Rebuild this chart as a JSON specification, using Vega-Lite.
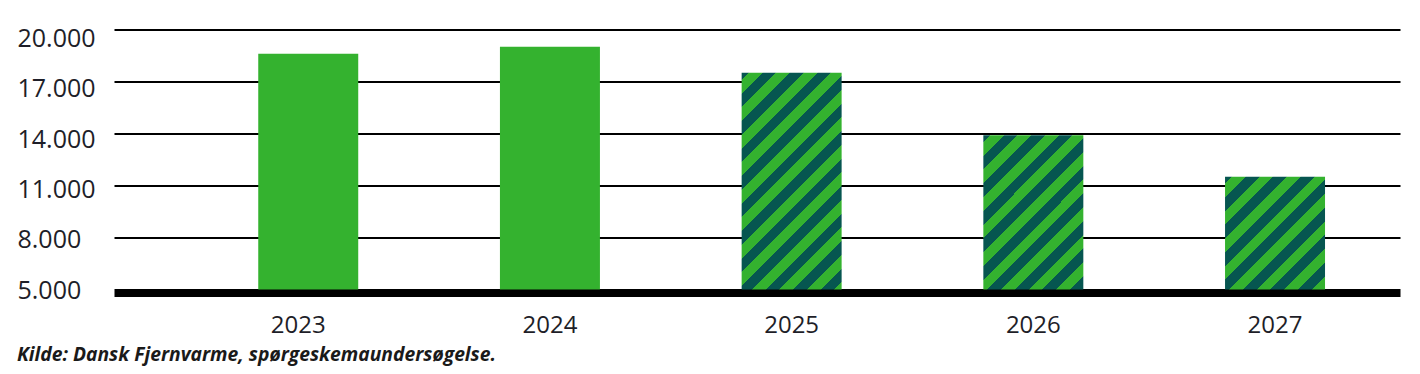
{
  "$schema": "https://vega.github.io/schema/vega-lite/v6.json",
  "width": 1286,
  "height": 260,
  "autosize": {"type": "none"},
  "padding": {"left": 114, "top": 29.5, "right": 20, "bottom": 84.5},
  "background": "white",
  "config": {"view": {"stroke": null}, "font": "Open Sans"},
  "title": {"text": "Kilde: Dansk Fjernvarme, spørgeskemaundersøgelse.", "orient": "bottom", "anchor": "start", "frame": "bounds", "font": "Open Sans", "fontSize": 19.3, "fontWeight": "bold", "fontStyle": "italic", "color": "#1a1a1a", "offset": 8},
  "data": {"values": [
    {"year": "2023", "value": 18600, "type": "faktisk"},
    {"year": "2024", "value": 19000, "type": "faktisk"},
    {"year": "2025", "value": 17500, "type": "forventet"},
    {"year": "2026", "value": 13900, "type": "forventet"},
    {"year": "2027", "value": 11500, "type": "forventet"}
  ]},
  "encoding": {
    "x": {"field": "year", "type": "ordinal", "scale": {"paddingInner": 0.5863, "paddingOuter": 0.4535, "align": 0.658},
      "axis": {"title": null, "labelAngle": 0, "ticks": false, "tickSize": 0, "domain": true, "domainColor": "#000000", "domainWidth": 6, "offset": 4, "labelFontSize": 24, "labelColor": "#1e1e28", "labelPadding": 20, "labelBaseline": "top", "labelFont": "Open Sans", "grid": false, "labelOffset": {"expr": "datum.value === '2023' ? -10 : 0"}}},
    "y": {"field": "value", "type": "quantitative", "scale": {"domain": [5000, 20000], "nice": false, "zero": false},
      "axis": {"title": null, "values": [5000, 8000, 11000, 14000, 17000, 20000], "domain": false, "ticks": false, "tickSize": 0, "grid": true, "gridColor": "#000000", "gridWidth": 2, "gridOpacity": 1, "labelAlign": "left", "labelBaseline": "middle", "labelPadding": 97, "labelFontSize": 25, "labelFont": "Open Sans", "labelColor": "#1e1e28", "labelOverlap": false, "labelBound": false, "labelExpr": "replace(format(datum.value, ','), ',', '.')", "labelOffset": {"expr": "0.5 + (datum.value - 5000) / 15000 * 8.5"}}},
    "y2": {"datum": 5000}
  },
  "layer": [
    {"transform": [{"filter": "datum.type === 'faktisk'"}], "mark": {"type": "bar", "fill": "#34b22f"}},
    {"transform": [{"filter": "datum.year === '2025'"}], "mark": {"type": "bar", "fill": {"gradient": "linear", "x1": 0, "y1": 0, "x2": 0.5561, "y2": 1.2049, "stops": [
      {"offset": 0, "color": "#065650"}, {"offset": 0.0217, "color": "#065650"}, {"offset": 0.0217, "color": "#34b22f"}, {"offset": 0.0651, "color": "#34b22f"}, {"offset": 0.0651, "color": "#065650"}, {"offset": 0.1086, "color": "#065650"}, {"offset": 0.1086, "color": "#34b22f"}, {"offset": 0.1520, "color": "#34b22f"}, {"offset": 0.1520, "color": "#065650"}, {"offset": 0.1954, "color": "#065650"}, {"offset": 0.1954, "color": "#34b22f"}, {"offset": 0.2388, "color": "#34b22f"}, {"offset": 0.2388, "color": "#065650"}, {"offset": 0.2822, "color": "#065650"}, {"offset": 0.2822, "color": "#34b22f"}, {"offset": 0.3257, "color": "#34b22f"}, {"offset": 0.3257, "color": "#065650"}, {"offset": 0.3691, "color": "#065650"}, {"offset": 0.3691, "color": "#34b22f"}, {"offset": 0.4125, "color": "#34b22f"}, {"offset": 0.4125, "color": "#065650"}, {"offset": 0.4559, "color": "#065650"}, {"offset": 0.4559, "color": "#34b22f"}, {"offset": 0.4993, "color": "#34b22f"}, {"offset": 0.4993, "color": "#065650"}, {"offset": 0.5428, "color": "#065650"}, {"offset": 0.5428, "color": "#34b22f"}, {"offset": 0.5862, "color": "#34b22f"}, {"offset": 0.5862, "color": "#065650"}, {"offset": 0.6296, "color": "#065650"}, {"offset": 0.6296, "color": "#34b22f"}, {"offset": 0.6730, "color": "#34b22f"}, {"offset": 0.6730, "color": "#065650"}, {"offset": 0.7165, "color": "#065650"}, {"offset": 0.7165, "color": "#34b22f"}, {"offset": 0.7599, "color": "#34b22f"}, {"offset": 0.7599, "color": "#065650"}, {"offset": 0.8033, "color": "#065650"}, {"offset": 0.8033, "color": "#34b22f"}, {"offset": 0.8467, "color": "#34b22f"}, {"offset": 0.8467, "color": "#065650"}, {"offset": 0.8901, "color": "#065650"}, {"offset": 0.8901, "color": "#34b22f"}, {"offset": 0.9336, "color": "#34b22f"}, {"offset": 0.9336, "color": "#065650"}, {"offset": 0.9770, "color": "#065650"}, {"offset": 0.9770, "color": "#34b22f"}, {"offset": 1, "color": "#34b22f"}
    ]}}},
    {"transform": [{"filter": "datum.year === '2026'"}], "mark": {"type": "bar", "fill": {"gradient": "linear", "x1": 0, "y1": 0, "x2": 0.7528, "y2": 1.1604, "stops": [
      {"offset": 0, "color": "#065650"}, {"offset": 0.0271, "color": "#065650"}, {"offset": 0.0271, "color": "#34b22f"}, {"offset": 0.0812, "color": "#34b22f"}, {"offset": 0.0812, "color": "#065650"}, {"offset": 0.1353, "color": "#065650"}, {"offset": 0.1353, "color": "#34b22f"}, {"offset": 0.1894, "color": "#34b22f"}, {"offset": 0.1894, "color": "#065650"}, {"offset": 0.2435, "color": "#065650"}, {"offset": 0.2435, "color": "#34b22f"}, {"offset": 0.2976, "color": "#34b22f"}, {"offset": 0.2976, "color": "#065650"}, {"offset": 0.3517, "color": "#065650"}, {"offset": 0.3517, "color": "#34b22f"}, {"offset": 0.4058, "color": "#34b22f"}, {"offset": 0.4058, "color": "#065650"}, {"offset": 0.4599, "color": "#065650"}, {"offset": 0.4599, "color": "#34b22f"}, {"offset": 0.5140, "color": "#34b22f"}, {"offset": 0.5140, "color": "#065650"}, {"offset": 0.5681, "color": "#065650"}, {"offset": 0.5681, "color": "#34b22f"}, {"offset": 0.6222, "color": "#34b22f"}, {"offset": 0.6222, "color": "#065650"}, {"offset": 0.6763, "color": "#065650"}, {"offset": 0.6763, "color": "#34b22f"}, {"offset": 0.7304, "color": "#34b22f"}, {"offset": 0.7304, "color": "#065650"}, {"offset": 0.7845, "color": "#065650"}, {"offset": 0.7845, "color": "#34b22f"}, {"offset": 0.8386, "color": "#34b22f"}, {"offset": 0.8386, "color": "#065650"}, {"offset": 0.8927, "color": "#065650"}, {"offset": 0.8927, "color": "#34b22f"}, {"offset": 0.9469, "color": "#34b22f"}, {"offset": 0.9469, "color": "#065650"}, {"offset": 1, "color": "#065650"}
    ]}}},
    {"transform": [{"filter": "datum.year === '2027'"}], "mark": {"type": "bar", "fill": {"gradient": "linear", "x1": 0, "y1": 0, "x2": 0.9371, "y2": 1.0558, "stops": [
      {"offset": 0, "color": "#065650"}, {"offset": 0.0323, "color": "#065650"}, {"offset": 0.0323, "color": "#34b22f"}, {"offset": 0.0970, "color": "#34b22f"}, {"offset": 0.0970, "color": "#065650"}, {"offset": 0.1616, "color": "#065650"}, {"offset": 0.1616, "color": "#34b22f"}, {"offset": 0.2263, "color": "#34b22f"}, {"offset": 0.2263, "color": "#065650"}, {"offset": 0.2909, "color": "#065650"}, {"offset": 0.2909, "color": "#34b22f"}, {"offset": 0.3556, "color": "#34b22f"}, {"offset": 0.3556, "color": "#065650"}, {"offset": 0.4203, "color": "#065650"}, {"offset": 0.4203, "color": "#34b22f"}, {"offset": 0.4849, "color": "#34b22f"}, {"offset": 0.4849, "color": "#065650"}, {"offset": 0.5496, "color": "#065650"}, {"offset": 0.5496, "color": "#34b22f"}, {"offset": 0.6142, "color": "#34b22f"}, {"offset": 0.6142, "color": "#065650"}, {"offset": 0.6789, "color": "#065650"}, {"offset": 0.6789, "color": "#34b22f"}, {"offset": 0.7435, "color": "#34b22f"}, {"offset": 0.7435, "color": "#065650"}, {"offset": 0.8082, "color": "#065650"}, {"offset": 0.8082, "color": "#34b22f"}, {"offset": 0.8728, "color": "#34b22f"}, {"offset": 0.8728, "color": "#065650"}, {"offset": 0.9375, "color": "#065650"}, {"offset": 0.9375, "color": "#34b22f"}, {"offset": 1, "color": "#34b22f"}
    ]}}}
  ]
}
